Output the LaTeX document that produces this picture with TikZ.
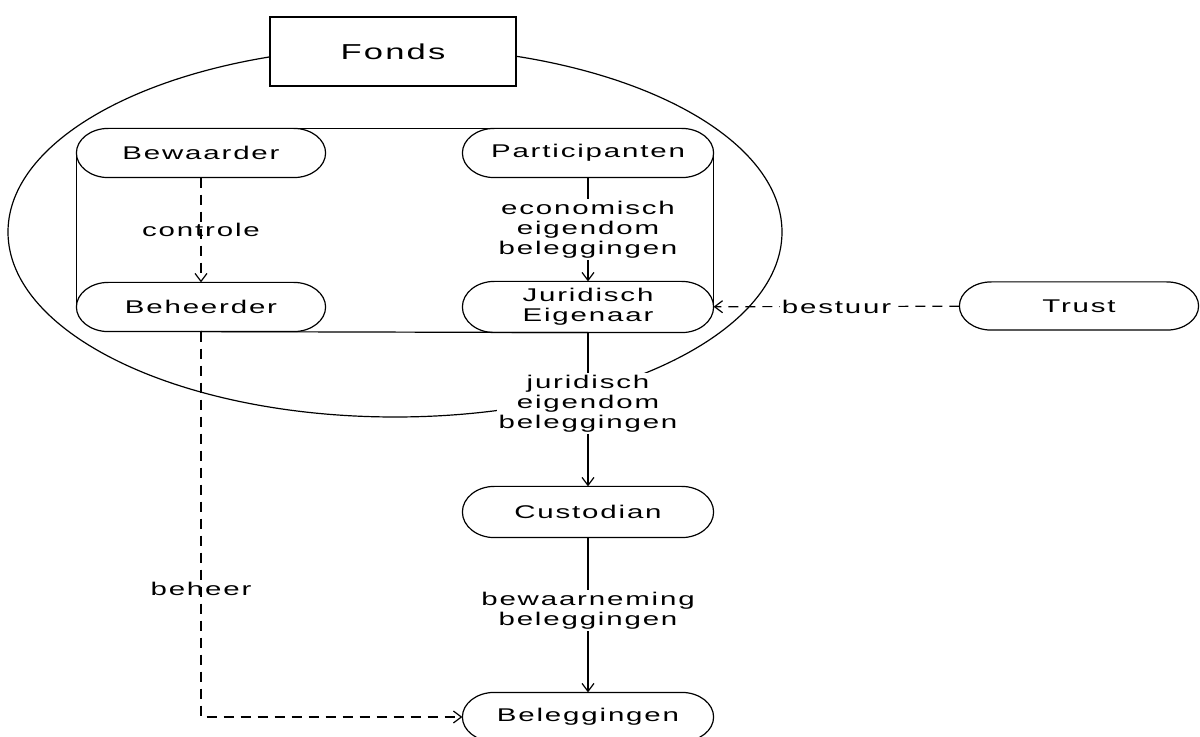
\documentclass[tikz,border=0pt]{standalone}
\usepackage{fontspec}
\setmainfont{Liberation Sans}[FakeStretch=1.6,LetterSpace=10]
\usetikzlibrary{arrows.meta,calc}
\newcommand\pillshape[1]{%
  \draw let \p1=(#1.north), \p2=(#1.south), \n1={(\y1-\y2)/2} in
    ([xshift=16pt]#1.north west) -- ([xshift=-16pt]#1.north east)
    arc[start angle=90, end angle=-90, x radius=16pt, y radius=\n1]
    -- ([xshift=16pt]#1.south west)
    arc[start angle=270, end angle=90, x radius=16pt, y radius=\n1] -- cycle;}
\begin{document}
\begin{tikzpicture}[x=0.5pt,y=-0.5pt,
  every path/.style={line width=0.6pt},
  nodefont/.style={font=\fontsize{9.2}{10}\selectfont},
  box/.style={rectangle, minimum width=125pt, minimum height=24pt, inner sep=0pt, nodefont, align=center, fill=white},
  lab/.style={fill=white, inner sep=1pt, nodefont, align=center},
  plainlab/.style={inner sep=1pt, nodefont, align=center},
  arr/.style={-{Straight Barb[length=4pt,width=6pt]}},
  dashline/.style={dash pattern=on 5pt off 3.5pt}]
\useasboundingbox (0,0) rectangle (1200,737);
% large enclosing ellipse
\draw (395,232) ellipse [x radius=193.5pt, y radius=92.5pt];
\node[draw, fill=white, minimum width=123pt, minimum height=34.5pt, inner sep=0pt, font=\fontsize{10.8}{12}\selectfont] (fonds) at (393,51.5) {Fonds};
% nodes
\node[box, minimum width=124pt] (bew) at (201,153) {Bewaarder};
\node[box, minimum width=124pt] (beh) at (201,307) {Beheerder};
\node[box] (par) at (588,153) {Participanten};
\node[box, minimum height=25pt] (jur) at (588,307) {Juridisch\\Eigenaar};
\node[box, minimum height=25pt] (cus) at (588,512) {Custodian};
\node[box] (bel) at (588,717) {Beleggingen};
\node[box, minimum width=119pt, minimum height=23.5pt] (tru) at (1079,306) {Trust};
\foreach \nm in {bew,beh,par,jur,cus,bel,tru} {\pillshape{\nm}}
% inner frame
\draw (bew.west) -- (beh.west);
\draw (bew.north) -- (par.north);
\draw (beh.south) -- (jur.south);
\draw (par.east) -- (jur.east);
% connectors
\draw[arr, dashline] (bew) -- node[plainlab]{controle} (beh);
\draw[arr] (par) -- node[lab]{economisch\\eigendom\\beleggingen} (jur);
\draw[arr] (jur) -- node[lab, pos=0.46]{juridisch\\eigendom\\beleggingen} (cus);
\draw[arr] (cus) -- node[lab, pos=0.47]{bewaarneming\\beleggingen} (bel);
\coordinate (corner) at (beh.south |- bel.west);
\draw[arr, dashline] (beh.south) -- node[plainlab, pos=0.668]{beheer} (corner) -- (bel.west);
\draw[arr, dashline] (tru) -- node[lab]{bestuur} (jur);
\end{tikzpicture}
\end{document}
